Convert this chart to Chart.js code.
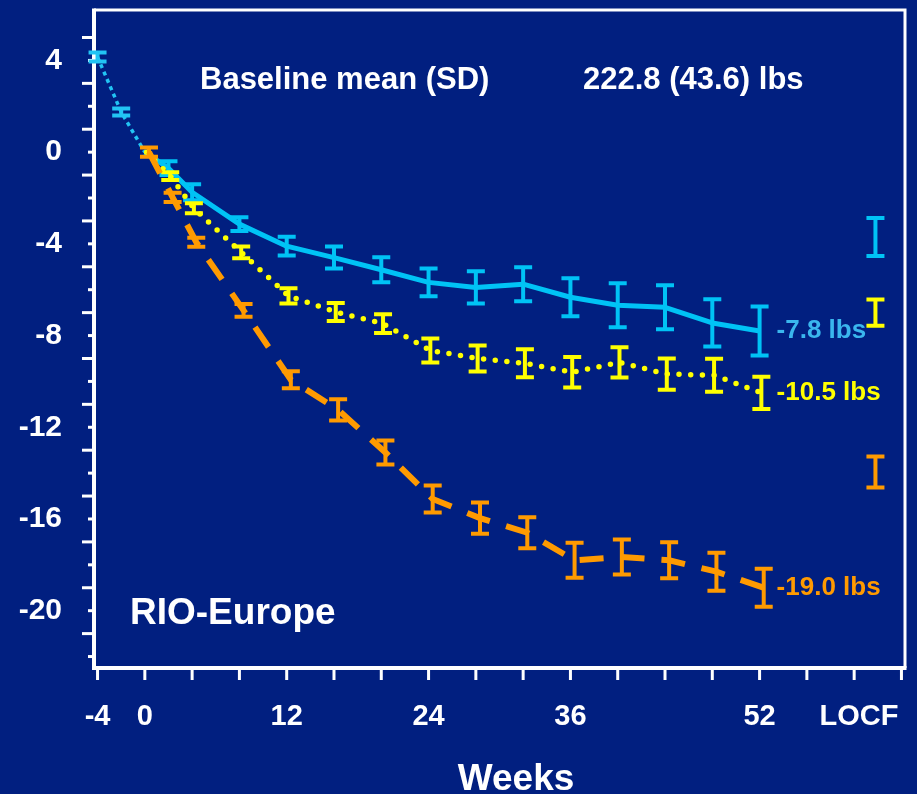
<!DOCTYPE html>
<html>
<head>
<meta charset="utf-8">
<script src="https://cdn.jsdelivr.net/npm/chart.js@4.4.1/dist/chart.umd.min.js"></script>
<style>
  html, body { margin: 0; padding: 0; background: #011f80; overflow: hidden; }
  canvas { display: block; }
</style>
</head>
<body>
<canvas id="c" width="917" height="794"></canvas>
<script>
// Change in body weight (lbs) from baseline, by study week — RIO-Europe
const runInWeeks = [-4, -2, 0];
const runInMean  = [4.15, 1.75, 0];
const runInErr   = [0.2, 0.15, 0];

const weeks = [0, 2, 4, 8, 12, 16, 20, 24, 28, 32, 36, 40, 44, 48, 52];
const placeboMean = [0, -0.7, -1.75, -3.14, -4.1, -4.6, -5.13, -5.68, -5.9, -5.76, -6.33, -6.68, -6.77, -7.45, -7.8];
const placeboErr  = [0, 0.3, 0.35, 0.3, 0.41, 0.48, 0.55, 0.61, 0.7, 0.74, 0.83, 0.96, 0.96, 1.03, 1.07];
const rimo5Mean   = [0, -1.05, -2.45, -4.37, -6.27, -6.97, -7.48, -8.65, -9.0, -9.21, -9.6, -9.17, -9.68, -9.73, -10.5];
const rimo5Err    = [0, 0.17, 0.22, 0.26, 0.33, 0.39, 0.41, 0.52, 0.57, 0.61, 0.66, 0.66, 0.68, 0.72, 0.7];
const rimo20Mean  = [0, -1.97, -3.93, -6.9, -9.93, -11.24, -13.1, -15.13, -15.96, -16.6, -17.8, -17.66, -17.8, -18.3, -19.0];
const rimo20Err   = [0.2, 0.2, 0.2, 0.28, 0.37, 0.46, 0.52, 0.59, 0.68, 0.68, 0.76, 0.76, 0.79, 0.83, 0.83];

// Last observation carried forward: placebo, 5 mg, 20 mg
const locfWeek = 61.8;
const locfMean = [-3.7, -7.0, -13.95];
const locfErr  = [0.83, 0.57, 0.68];

const xTickValues = [-4, 0, 12, 24, 36, 52, 60.4];
const xTickLabels = ['-4', '0', '12', '24', '36', '52', 'LOCF'];
const yTickValues = [4, 0, -4, -8, -12, -16, -20];
const yTickLabels = ['4', '0', '-4', '-8', '-12', '-16', '-20'];

const FONT = '"Liberation Sans", Arial, Helvetica, sans-serif';
const BG = '#011f80';
const CYAN = '#00c3f5';
const CYAN_TEXT = '#3ab6ee';
const YELLOW = '#ffff00';
const ORANGE = '#ff9a00';

// small horizontal dodge so overlapping error bars stay readable
const pts = (xs, ys, dx) => xs.map((w, i) => ({ x: w + dx, y: ys[i] }));

const backgroundPlugin = {
  id: 'bg',
  beforeDraw(chart) {
    const { ctx, width, height } = chart;
    ctx.save();
    ctx.fillStyle = BG;
    ctx.fillRect(0, 0, width, height);
    ctx.restore();
  }
};

const errorBarPlugin = {
  id: 'errorBars',
  afterDatasetDraw(chart, args) {
    const ds = chart.data.datasets[args.index];
    if (!ds.err) return;
    const { ctx } = chart;
    const xs = chart.scales.x, ys = chart.scales.y;
    ctx.save();
    ctx.strokeStyle = ds.barColor || ds.borderColor;
    ctx.lineWidth = 4;
    ctx.lineCap = 'butt';
    ctx.setLineDash([]);
    ds.data.forEach((p, i) => {
      const e = ds.err[i];
      if (!e) return;
      const px = xs.getPixelForValue(p.x);
      const top = ys.getPixelForValue(p.y + e);
      const bot = ys.getPixelForValue(p.y - e);
      const hw = 9;
      ctx.beginPath();
      ctx.moveTo(px, top); ctx.lineTo(px, bot);
      ctx.moveTo(px - hw, top); ctx.lineTo(px + hw, top);
      ctx.moveTo(px - hw, bot); ctx.lineTo(px + hw, bot);
      ctx.stroke();
    });
    ctx.restore();
  }
};

const framePlugin = {
  id: 'frame',
  beforeDatasetsDraw(chart) {
    const { ctx, chartArea: a } = chart;
    const xs = chart.scales.x, ys = chart.scales.y;
    ctx.save();
    ctx.strokeStyle = '#ffffff';
    // top and right border
    ctx.lineWidth = 3;
    ctx.beginPath();
    ctx.moveTo(a.left, a.top); ctx.lineTo(a.right, a.top); ctx.lineTo(a.right, a.bottom);
    ctx.stroke();
    // axes
    ctx.lineWidth = 4;
    ctx.beginPath();
    ctx.moveTo(a.left, a.top - 1.5); ctx.lineTo(a.left, a.bottom);
    ctx.lineTo(a.right + 1.5, a.bottom);
    ctx.stroke();
    // y tick marks: long on odd values, short on even
    ctx.lineWidth = 3;
    for (let v = -22; v <= 5; v++) {
      const py = ys.getPixelForValue(v);
      const len = Math.abs(v % 2) === 1 ? 12 : 6;
      ctx.beginPath();
      ctx.moveTo(a.left - len, py); ctx.lineTo(a.left, py);
      ctx.stroke();
    }
    // x tick marks every 4 weeks
    for (let w = -4; w <= 64; w += 4) {
      const px = xs.getPixelForValue(w);
      ctx.beginPath();
      ctx.moveTo(px, a.bottom); ctx.lineTo(px, a.bottom + 12);
      ctx.stroke();
    }
    ctx.restore();
  }
};

const textPlugin = {
  id: 'texts',
  afterDraw(chart) {
    const { ctx } = chart;
    const xs = chart.scales.x, ys = chart.scales.y;
    ctx.save();
    ctx.fillStyle = '#ffffff';
    ctx.textBaseline = 'alphabetic';
    ctx.textAlign = 'left';
    ctx.font = `bold 31px ${FONT}`;
    ctx.fillText('Baseline mean (SD)', 200, 89);
    ctx.fillText('222.8 (43.6) lbs', 583, 89);
    ctx.font = `bold 37px ${FONT}`;
    ctx.fillText('RIO-Europe', 130, 624);
    ctx.textAlign = 'center';
    ctx.fillText('Weeks', 516, 790);

    // week-52 values written beside the series ends
    const ends = [
      { v: placeboMean[placeboMean.length - 1], c: CYAN_TEXT },
      { v: rimo5Mean[rimo5Mean.length - 1], c: YELLOW },
      { v: rimo20Mean[rimo20Mean.length - 1], c: ORANGE }
    ];
    ctx.font = `bold 26px ${FONT}`;
    ctx.textAlign = 'left';
    ctx.textBaseline = 'middle';
    const lx = xs.getPixelForValue(52) + 17;
    ends.forEach(e => {
      ctx.fillStyle = e.c;
      ctx.fillText(`${e.v.toFixed(1)} lbs`, lx, ys.getPixelForValue(e.v));
    });
    ctx.restore();
  }
};

const locfSet = (i, color) => ({
  data: [{ x: locfWeek, y: locfMean[i] }],
  err: [locfErr[i]],
  borderColor: color,
  showLine: false,
  pointRadius: 0,
  order: 5
});

new Chart(document.getElementById('c'), {
  type: 'line',
  data: {
    datasets: [
      {
        data: pts(weeks, rimo20Mean, 0.35), err: rimo20Err,
        borderColor: ORANGE, borderWidth: 6, borderDash: [24, 17], borderCapStyle: 'butt',
        pointRadius: 0, tension: 0, order: 1
      },
      {
        data: pts(weeks, rimo5Mean, 0.15), err: rimo5Err,
        borderColor: YELLOW, borderWidth: 5.5, borderDash: [0, 11.7], borderCapStyle: 'round',
        pointRadius: 0, tension: 0, order: 2
      },
      {
        data: pts(weeks, placeboMean, 0), err: placeboErr,
        borderColor: CYAN, borderWidth: 5, borderJoinStyle: 'round',
        pointRadius: 0, tension: 0, order: 3
      },
      {
        data: pts(runInWeeks, runInMean, 0), err: runInErr,
        borderColor: '#22c4f4', borderWidth: 3.5, borderDash: [4, 4],
        pointRadius: 0, tension: 0, order: 4
      },
      locfSet(0, CYAN),
      locfSet(1, YELLOW),
      locfSet(2, ORANGE)
    ]
  },
  options: {
    responsive: false,
    animation: false,
    events: [],
    layout: { padding: { top: 10, right: 12, left: 0, bottom: 0 } },
    plugins: { legend: { display: false }, tooltip: { enabled: false } },
    scales: {
      x: {
        type: 'linear', min: -4.3, max: 64.3,
        grid: { display: false, drawTicks: false },
        border: { display: false },
        afterBuildTicks: s => { s.ticks = xTickValues.map(v => ({ value: v })); },
        afterFit: s => { s.height = 126; s.paddingLeft = 0; s.paddingRight = 0; },
        ticks: {
          autoSkip: false, maxRotation: 0, minRotation: 0, padding: 32,
          color: '#ffffff', font: { family: FONT, size: 29, weight: 'bold' },
          callback: (v, i) => xTickLabels[i]
        }
      },
      y: {
        type: 'linear', min: -22.5, max: 6.2,
        grid: { display: false, drawTicks: false },
        border: { display: false },
        afterBuildTicks: s => { s.ticks = yTickValues.map(v => ({ value: v })); },
        afterFit: s => { s.width = 94; s.paddingTop = 0; s.paddingBottom = 0; },
        ticks: {
          padding: 32, color: '#ffffff', font: { family: FONT, size: 30, weight: 'bold' },
          callback: (v, i) => yTickLabels[i]
        }
      }
    }
  },
  plugins: [backgroundPlugin, framePlugin, errorBarPlugin, textPlugin]
});
</script>
</body>
</html>
